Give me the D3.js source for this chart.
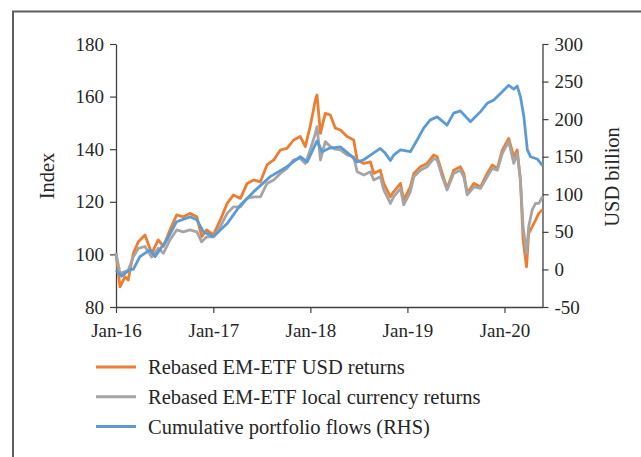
<!DOCTYPE html>
<html>
<head>
<meta charset="utf-8">
<script src="https://cdn.jsdelivr.net/npm/d3@7"></script>
<style>
  html, body { margin: 0; padding: 0; background: #fff; }
  svg { display: block; }
  text { font-family: "Liberation Serif", "DejaVu Serif", serif; fill: #262626; }
</style>
</head>
<body>
<svg id="chart" width="641" height="457"></svg>
<script>
// ---------- DATA ----------
const etfDates = [
  "2016-01-01","2016-01-16","2016-02-04","2016-02-16","2016-03-06","2016-03-25","2016-04-19","2016-05-14","2016-06-08","2016-06-27",
  "2016-07-22","2016-08-16","2016-09-10","2016-10-05","2016-10-31","2016-11-18","2016-12-07","2017-01-01",
  "2017-01-27","2017-02-22","2017-03-18","2017-04-13","2017-05-08","2017-06-02","2017-06-27","2017-07-22","2017-08-16","2017-09-10",
  "2017-10-05","2017-10-30","2017-11-24","2017-12-13","2018-01-01",
  "2018-01-20","2018-01-26","2018-02-08","2018-02-26","2018-03-17","2018-04-05","2018-04-24","2018-05-19","2018-06-13","2018-06-26",
  "2018-07-21","2018-08-15","2018-08-27","2018-09-21","2018-10-04","2018-10-29","2018-11-10","2018-12-06","2018-12-18",
  "2019-01-12","2019-01-25","2019-02-19","2019-03-16","2019-04-10","2019-04-23","2019-05-12","2019-05-30","2019-06-24","2019-07-19",
  "2019-08-01","2019-08-14","2019-09-08","2019-10-03","2019-10-28","2019-11-16","2019-12-05","2019-12-24",
  "2020-01-17","2020-02-05","2020-02-18","2020-03-01","2020-03-11","2020-03-24","2020-04-01","2020-04-14","2020-04-27","2020-05-09","2020-05-23"
];
const usdReturns = [
  100.4, 87.7, 91.5, 90.3, 100.4, 104.8, 107.4, 100.4, 105.5, 103, 109.3, 115, 114.3, 115.6, 114.3, 106.7, 109.3, 107.4,
  113, 119.4, 122.6, 121.3, 127, 128.3, 127.6, 134, 135.9, 139.7, 140.3, 143.5, 144.8, 141, 149,
  158.7, 160.6, 146, 153.6, 153, 148, 147.3, 144.8, 143.5, 135.9, 134.6, 135.2, 130.8, 132, 127, 121.9, 123.8, 127, 120.7,
  125.7, 130.8, 133.3, 134.6, 137.8, 137.1, 130.8, 125.1, 132, 133.3, 130.8, 123.2, 127, 125.7, 130.8, 134, 132.7, 139.7,
  144.1, 137.1, 139.7, 128.3, 105.5, 95.3, 108, 110.5, 113, 115.6, 117
];
const localReturns = [
  100.5, 92.8, 93.5, 94, 99, 102.3, 103, 99, 102.3, 100.4, 105.5, 109.3, 108.6, 109.3, 108.6, 104.8, 106.7, 106.7,
  110.5, 115.6, 118.1, 118.1, 121.3, 121.9, 121.9, 127, 128.3, 130.8, 132.7, 135.9, 136.5, 134.6, 140,
  146, 148.6, 135.9, 142.9, 141, 140, 139.7, 137.8, 137.1, 131.4, 130.2, 131.4, 128.3, 129.5, 124.5, 119.4, 121.9, 125.1, 118.8,
  123.8, 129.5, 132, 133.3, 136.5, 135.9, 129.5, 124.5, 130.8, 132, 129.5, 122.6, 125.7, 125.1, 129.5, 132.7, 132, 138.4,
  142.9, 134.6, 138.4, 128.3, 110.5, 100.4, 110.5, 116.9, 119.4, 119.4, 121.9
];
const flowDates = [
  "2016-01-01","2016-01-22","2016-02-23","2016-03-06","2016-03-31","2016-05-08","2016-05-27","2016-06-21","2016-07-10","2016-08-16",
  "2016-10-05","2016-10-31","2016-11-25","2017-01-01","2017-02-22","2017-04-13","2017-06-02","2017-08-03","2017-10-05","2017-11-24",
  "2017-12-20","2018-01-01","2018-01-26","2018-02-14","2018-03-11","2018-04-24","2018-06-01","2018-06-26","2018-07-21","2018-08-15",
  "2018-09-21","2018-10-10","2018-10-29","2018-11-10","2018-12-06","2019-01-12","2019-02-06","2019-03-03","2019-03-28","2019-04-23",
  "2019-05-30","2019-06-24","2019-07-19","2019-08-26","2019-10-03","2019-10-28","2019-11-22","2019-12-17","2020-01-17","2020-02-05",
  "2020-02-18","2020-03-01","2020-03-14","2020-03-27","2020-04-08","2020-05-03","2020-05-23"
];
const cumulativeFlows = [
  -1, -9, 0, 0, 17, 26, 17, 30, 39, 63.5,
  70, 66, 50, 43.6, 61, 85.7, 103.5, 123.5, 136.7, 150,
  143, 152, 171, 156.7, 161, 163, 152, 143, 146, 152,
  161, 154.5, 145, 152, 159, 156.7, 172, 188, 199, 203,
  192, 208, 211, 196.6, 210, 221, 225.5, 234, 245, 240,
  244, 230, 203, 159, 150, 147, 138
];
const leftTicks = [80, 100, 120, 140, 160, 180];
const rightTicks = [-50, 0, 50, 100, 150, 200, 250, 300];
const xTickDates = ["2016-01-01","2017-01-01","2018-01-01","2019-01-01","2020-01-01"];
const seriesNames = ["Rebased EM-ETF USD returns", "Rebased EM-ETF local currency returns", "Cumulative portfolio flows (RHS)"];
const seriesColors = ["#ED7D31", "#A5A5A5", "#5B9BD5"];
const leftTitle = "Index";
const rightTitle = "USD billion";

// ---------- CHART ----------
const parse = d3.timeParse("%Y-%m-%d");
const fmt = d3.timeFormat("%b-%y");
const svg = d3.select("#chart");

// frame
svg.append("path")
  .attr("d", "M13,470 L13,11.5 L660,11.5")
  .attr("fill", "none").attr("stroke", "#5f5f5f").attr("stroke-width", 2);

const x = d3.scaleTime().domain([parse("2016-01-01"), parse("2020-05-23")]).range([116, 542.5]);
const yL = d3.scaleLinear().domain([80, 180]).range([307, 44]);
const yR = d3.scaleLinear().domain([-50, 300]).range([307, 44]);

const axisColor = "#404040";
const plainNum = d => String(d);

// x axis
const gx = svg.append("g").attr("transform", "translate(0,307)")
  .call(d3.axisBottom(x).tickValues(xTickDates.map(parse)).tickFormat(fmt).tickSize(6).tickSizeOuter(0).tickPadding(6));
// left axis
const gl = svg.append("g").attr("transform", "translate(116,0)")
  .call(d3.axisLeft(yL).tickValues(leftTicks).tickFormat(plainNum).tickSize(6).tickSizeOuter(0).tickPadding(6));
// right axis
const gr = svg.append("g").attr("transform", "translate(542.5,0)")
  .call(d3.axisRight(yR).tickValues(rightTicks).tickFormat(plainNum).tickSize(6).tickSizeOuter(0).tickPadding(6));

[gx, gl, gr].forEach(g => {
  g.select(".domain").attr("stroke", axisColor).attr("stroke-width", 1.3);
  g.selectAll(".tick line").attr("stroke", axisColor).attr("stroke-width", 1.2);
  g.selectAll(".tick text").attr("font-size", 19).attr("fill", "#262626")
   .style("font-family", '"Liberation Serif", serif');
});
gx.selectAll(".tick text").attr("dy", "0.95em");

// axis titles
svg.append("text").attr("transform", "translate(54,176) rotate(-90)")
  .attr("text-anchor", "middle").attr("font-size", 20.5).text(leftTitle);
svg.append("text").attr("transform", "translate(619,177) rotate(-90)")
  .attr("text-anchor", "middle").attr("font-size", 20.5).text(rightTitle);

// lines
const etf = etfDates.map(parse);
const fl = flowDates.map(parse);
const lineL = d3.line().x(d => x(d[0])).y(d => yL(d[1]));
const lineR = d3.line().x(d => x(d[0])).y(d => yR(d[1]));

svg.append("path").datum(etf.map((d, i) => [d, usdReturns[i]]))
  .attr("d", lineL).attr("fill", "none").attr("stroke", seriesColors[0]).attr("stroke-width", 2.8).attr("stroke-linejoin", "round");
svg.append("path").datum(etf.map((d, i) => [d, localReturns[i]]))
  .attr("d", lineL).attr("fill", "none").attr("stroke", seriesColors[1]).attr("stroke-width", 2.8).attr("stroke-linejoin", "round");
svg.append("path").datum(fl.map((d, i) => [d, cumulativeFlows[i]]))
  .attr("d", lineR).attr("fill", "none").attr("stroke", seriesColors[2]).attr("stroke-width", 2.8).attr("stroke-linejoin", "round");

// legend
const leg = svg.append("g");
seriesNames.forEach((name, i) => {
  const yy = 367 + i * 29.7;
  leg.append("line").attr("x1", 96).attr("x2", 136).attr("y1", yy).attr("y2", yy)
    .attr("stroke", seriesColors[i]).attr("stroke-width", 3);
  leg.append("text").attr("x", 148).attr("y", yy).attr("dy", "0.35em")
    .attr("font-size", 20.5).text(name);
});
</script>
</body>
</html>
